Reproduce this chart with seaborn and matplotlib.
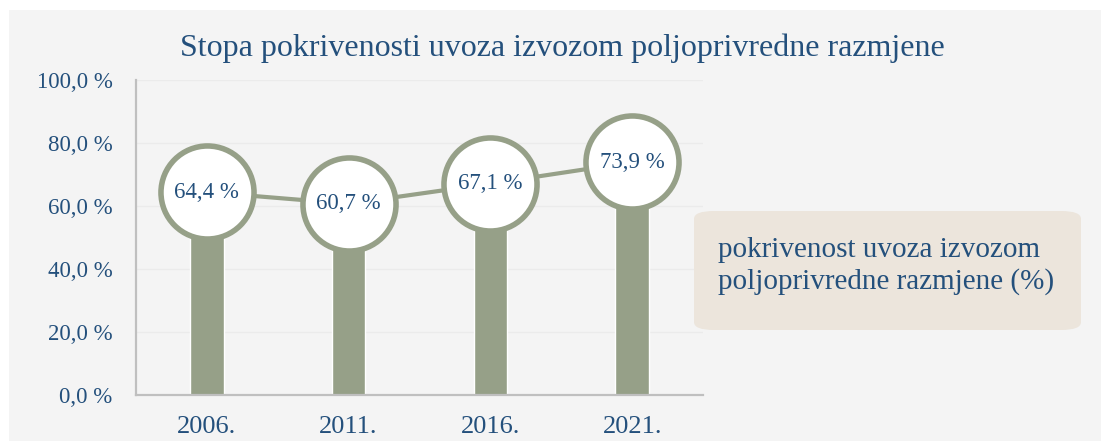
import matplotlib
matplotlib.use("Agg")
import matplotlib.pyplot as plt
import seaborn as sns
import pandas as pd
from matplotlib.patches import FancyBboxPatch, Rectangle

years = ["2006.", "2011.", "2016.", "2021."]
values = [64.4, 60.7, 67.1, 73.9]
value_labels = ["64,4 %", "60,7 %", "67,1 %", "73,9 %"]
y_ticks = [0, 20, 40, 60, 80, 100]
y_tick_labels = ["0,0 %", "20,0 %", "40,0 %", "60,0 %", "80,0 %", "100,0 %"]
title = "Stopa pokrivenosti uvoza izvozom poljoprivredne razmjene"
legend_text = "pokrivenost uvoza izvozom\npoljoprivredne razmjene (%)"

sns.set_theme(style="white")
plt.rcParams["font.family"] = ["Liberation Serif", "DejaVu Serif"]

TXT = "#24507c"
GREEN = "#96a088"
PANEL = "#f4f4f4"

df = pd.DataFrame({"year": years, "value": values, "pos": range(len(years))})

fig = plt.figure(figsize=(11.01, 4.41), dpi=100, facecolor="white")
fig.patches.append(Rectangle((9 / 1101, 0), 1, 1 - 10 / 441, transform=fig.transFigure,
                             facecolor=PANEL, edgecolor="none", zorder=-5))

ax = fig.add_axes([136 / 1101, 46 / 441, 567 / 1101, 315 / 441])
ax.set_facecolor(PANEL)

sns.barplot(data=df, x="year", y="value", color=GREEN, width=0.235, saturation=1,
            edgecolor="white", linewidth=1, ax=ax, zorder=2)
sns.lineplot(data=df, x="pos", y="value", color=GREEN, linewidth=3, marker="o",
             markersize=67, markerfacecolor="white", markeredgecolor=GREEN,
             markeredgewidth=4, ax=ax, zorder=3)

for i, (v, lab) in enumerate(zip(values, value_labels)):
    ax.text(i, v, lab, ha="center", va="center", fontsize=16.5, color=TXT, zorder=4)

ax.set_xlim(-0.5, len(years) - 0.5)
ax.set_ylim(0, 100)
ax.set_yticks(y_ticks)
ax.set_yticklabels(y_tick_labels)
ax.set_xticks(range(len(years)))
ax.set_xticklabels(years)
ax.tick_params(axis="y", length=0, pad=17, labelsize=16.5, labelcolor=TXT)
ax.tick_params(axis="x", length=0, pad=15, labelsize=19, labelcolor=TXT)
ax.set_xlabel("")
ax.set_ylabel("")
ax.grid(axis="y", color="#ebebeb", linewidth=1)
ax.set_axisbelow(True)
for s in ["top", "right"]:
    ax.spines[s].set_visible(False)
for s in ["left", "bottom"]:
    ax.spines[s].set_color("#bfbfbf")
    ax.spines[s].set_linewidth(1.6)

fig.text(562 / 1101, 1 - 48 / 441, title, ha="center", va="center", fontsize=23, color=TXT)

box = FancyBboxPatch((694 / 1101, 1 - 330 / 441), 387 / 1101, 119 / 441,
                     boxstyle="round,pad=0,rounding_size=0.018", transform=fig.transFigure,
                     facecolor="#ece5dc", edgecolor="none", zorder=1)
fig.patches.append(box)
fig.text(718 / 1101, 1 - 266 / 441, legend_text, ha="left", va="center", fontsize=21,
         color=TXT, linespacing=1.2, zorder=2)

fig.savefig("out.png", dpi=100, facecolor="white")
